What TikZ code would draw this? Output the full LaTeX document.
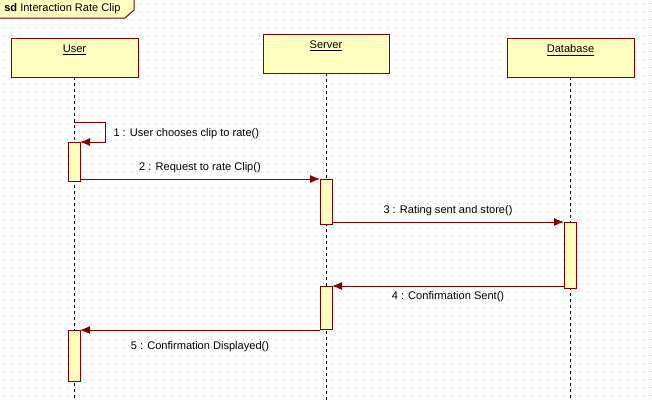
\documentclass[tikz,border=0pt]{standalone}
\usepackage{fontspec}
\setmainfont{Liberation Sans}
\usepackage{tikz}
\usetikzlibrary{arrows.meta}
\usetikzlibrary{positioning}
\definecolor{umlred}{HTML}{800000}
\definecolor{umlfill}{HTML}{FFFFC0}
\definecolor{griddot}{HTML}{C4C4C4}

\begin{document}
\begin{tikzpicture}[x=0.75pt,y=-0.75pt,
->,>={Latex[length=7.5pt,width=6pt]},font=\fontsize{8.3}{10}\selectfont]
     \tikzstyle{head}=[draw=umlred,fill=umlfill,line width=0.75pt,inner sep=0pt,outer sep=0pt,minimum width=95.25pt,minimum height=29.25pt]
     \tikzstyle{headlabel}=[inner sep=0pt]
     \tikzstyle{bar}=[draw=umlred,fill=umlfill,line width=0.75pt,inner sep=0pt,outer sep=0pt,minimum width=9pt]
     \tikzstyle{life}=[draw=black,line width=0.75pt,dash pattern=on 2.25pt off 2.25pt,-]
     \tikzstyle{msg}=[draw=umlred,line width=0.75pt,->]
     \useasboundingbox (0,0) rectangle (652,400);

     \fill[griddot] \foreach \x in {3,11,...,651} {\foreach \y in {3,11,...,395} {(\x,\y) rectangle ++(1,1)}};

     \fill[umlfill] (0,0) -- (134,0) -- (134,10) -- (125,18) -- (0,18) -- cycle;
     \draw[umlred,line width=0.75pt,-] (134,0) -- (134,10) -- (125,18) -- (0,18);
     \node[anchor=west,inner sep=0pt] (title) at (4,9) {\textbf{sd} Interaction Rate Clip};

     \node[head] (user) at (74.5,57.5) {};
     \node[head,minimum width=94.5pt] (server) at (326,53.5) {};
     \node[head] (db) at (570.5,57.5) {};
     \node[headlabel,below=5pt of user.north] (userlabel) {\underline{User}};
     \node[headlabel,below=5pt of server.north] (serverlabel) {\underline{Server}};
     \node[headlabel,below=5pt of db.north] (dblabel) {\underline{Database}};

     \coordinate (userend) at (74,400);
     \coordinate (serverend) at (326,400);
     \coordinate (dbend) at (570,400);
     \draw[life] (user.south -| userend) -- (userend);
     \draw[life] (server.south -| serverend) -- (serverend);
     \draw[life] (db.south -| dbend) -- (dbend);

     \node[bar,minimum height=29.25pt] (ua1) at (74,161.5) {};
     \node[bar,minimum height=38.25pt] (ua2) at (74,355.5) {};
     \node[bar,minimum height=33.75pt] (sa1) at (326,201.5) {};
     \node[bar,minimum height=32.25pt] (sa2) at (326,307.5) {};
     \node[bar,minimum height=49.5pt] (da1) at (570,255) {};

     \coordinate (selfstart) at (74,122);
     \draw[msg] (selfstart) -- ++(31,0) |- (ua1.north east)
          node[pos=0.3,right=6pt,text=black,inner sep=0pt] (m1) {1 : User chooses clip to rate()};
     \draw[msg] (ua1.east |- sa1.north) -- (sa1.north west)
          node[midway,above=4pt,text=black,inner sep=0pt] (m2) {2 : Request to rate Clip()};
     \draw[msg] (sa1.east |- da1.north) -- (da1.north west)
          node[midway,above=4pt,text=black,inner sep=0pt] (m3) {3 : Rating sent and store()};
     \draw[msg] (da1.west |- sa2.north) -- (sa2.north east)
          node[midway,below=4pt,text=black,inner sep=0pt] (m4) {4 : Confirmation Sent()};
     \draw[msg] (sa2.west |- ua2.north) -- (ua2.north east)
          node[midway,below=8pt,text=black,inner sep=0pt] (m5) {5 : Confirmation Displayed()};
 \end{tikzpicture}
\end{document}
